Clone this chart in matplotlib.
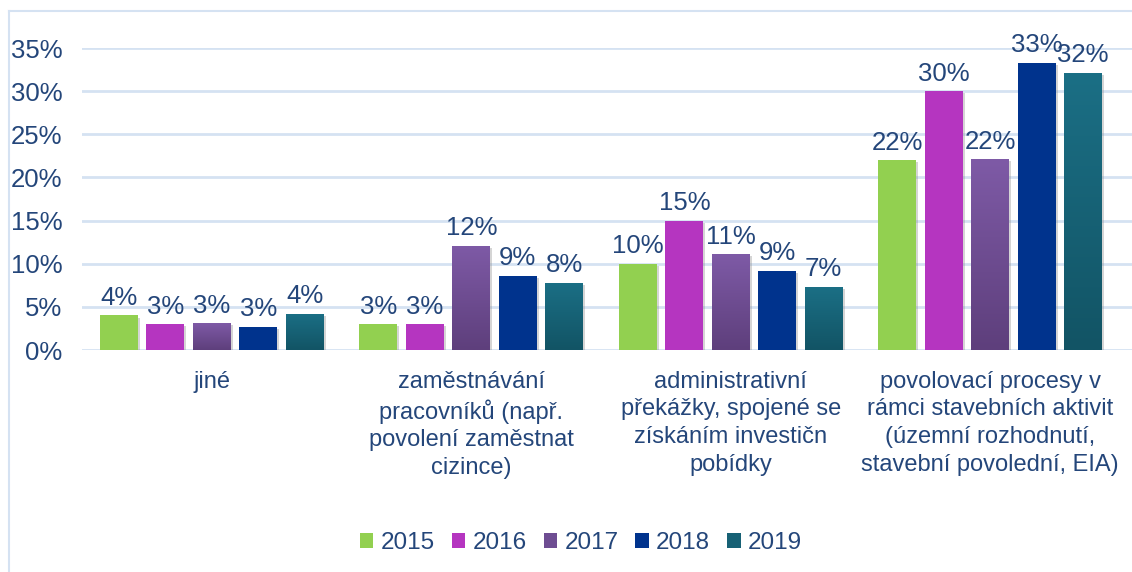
import numpy as np
import matplotlib
matplotlib.use('Agg')
import matplotlib.pyplot as plt
from matplotlib.patches import Rectangle, Patch
from matplotlib.lines import Line2D
from matplotlib.colors import LinearSegmentedColormap
import matplotlib.patheffects as pe

plt.rcParams['font.family'] = ['Liberation Sans', 'DejaVu Sans']

# data
categories = ['jiné',
              'zaměstnávání\npracovníků (např.\npovolení zaměstnat\ncizince)',
              'administrativní\npřekážky, spojené se\nzískáním investičn\npobídky',
              'povolovací procesy v\nrámci stavebních aktivit\n(územní rozhodnutí,\nstavební povolední, EIA)']
years = ['2015', '2016', '2017', '2018', '2019']
v2015 = [4.0, 3.0, 10.0, 22.0]
v2016 = [3.0, 3.0, 15.0, 30.0]
v2017 = [3.1, 12.1, 11.1, 22.1]
v2018 = [2.7, 8.6, 9.2, 33.3]
v2019 = [4.2, 7.8, 7.3, 32.1]
series = [v2015, v2016, v2017, v2018, v2019]
yticks = [0, 5, 10, 15, 20, 25, 30, 35]

# style
txt_col = '#24467A'
grid_col = '#D5E2F2'
colors = [('#92D050', '#92D050'),
          ('#B535C0', '#B535C0'),
          ('#7E5AA6', '#5E3F7C'),
          ('#00338D', '#00338D'),
          ('#1B6F85', '#125465')]

fig = plt.figure(figsize=(11.32, 5.72), dpi=100)
ax = fig.add_axes([82 / 1132, 1 - 350 / 572, (1132 - 82) / 1132, 302 / 572])

x = np.arange(len(categories))
step = 46.5 / 260
width = 38 / 260

for k, vals in enumerate(series):
    top, bot = colors[k]
    for i, v in enumerate(vals):
        xc = x[i] + (k - 2) * step
        x0 = xc - width / 2
        r = Rectangle((x0, 0), width, v, facecolor=bot, edgecolor='none', zorder=3,
                      path_effects=[pe.SimplePatchShadow(offset=(1.5, -1.5), shadow_rgbFace='#888888', alpha=0.35),
                                    pe.Normal()])
        ax.add_patch(r)
        if top != bot:
            cmap = LinearSegmentedColormap.from_list('g', [bot, top])
            grad = np.linspace(0, 1, 100).reshape(-1, 1)
            im = ax.imshow(grad, cmap=cmap, extent=(x0, x0 + width, 0, v), origin='lower',
                           aspect='auto', zorder=4)
            im.set_clip_path(r)
        ax.annotate(f'{round(v):.0f}%', (xc, v), xytext=(0, 4), textcoords='offset points',
                    ha='center', va='bottom', fontsize=18.5, color=txt_col, zorder=5)

ax.set_xlim(-0.5, 3.5 + 12 / 260)
ax.set_ylim(0, 35)
ax.set_yticks(yticks)
ax.set_yticklabels([f'{t}%' for t in yticks])
ax.tick_params(axis='y', length=0, labelsize=18.5, labelcolor=txt_col, pad=14)
ax.set_xticks([])
for t in yticks:
    ax.axhline(t, color=grid_col, lw=2, zorder=1)
for s in ax.spines.values():
    s.set_visible(False)

for i, c in enumerate(categories):
    ax.text(x[i], -2.4, c, ha='center', va='top', fontsize=17, color=txt_col,
            linespacing=1.33)

# outer frame lines
fig.add_artist(Line2D([9 / 1132, 9 / 1132], [0, 1 - 11 / 572], color=grid_col, lw=1.5))
fig.add_artist(Line2D([9 / 1132, 1], [1 - 11 / 572, 1 - 11 / 572], color=grid_col, lw=1.5))

handles = [Patch(facecolor=colors[k][0] if k != 2 else '#6E4D92', edgecolor='none') for k in range(5)]
handles[4] = Patch(facecolor='#176175', edgecolor='none')
fig.legend(handles, years, loc='center', bbox_to_anchor=(581 / 1132, 1 - 543 / 572), ncol=5,
           frameon=False, fontsize=17.5, labelcolor=txt_col, handlelength=0.55, handleheight=0.55,
           handletextpad=0.3, columnspacing=0.7)

fig.savefig('out.png', dpi=100)
